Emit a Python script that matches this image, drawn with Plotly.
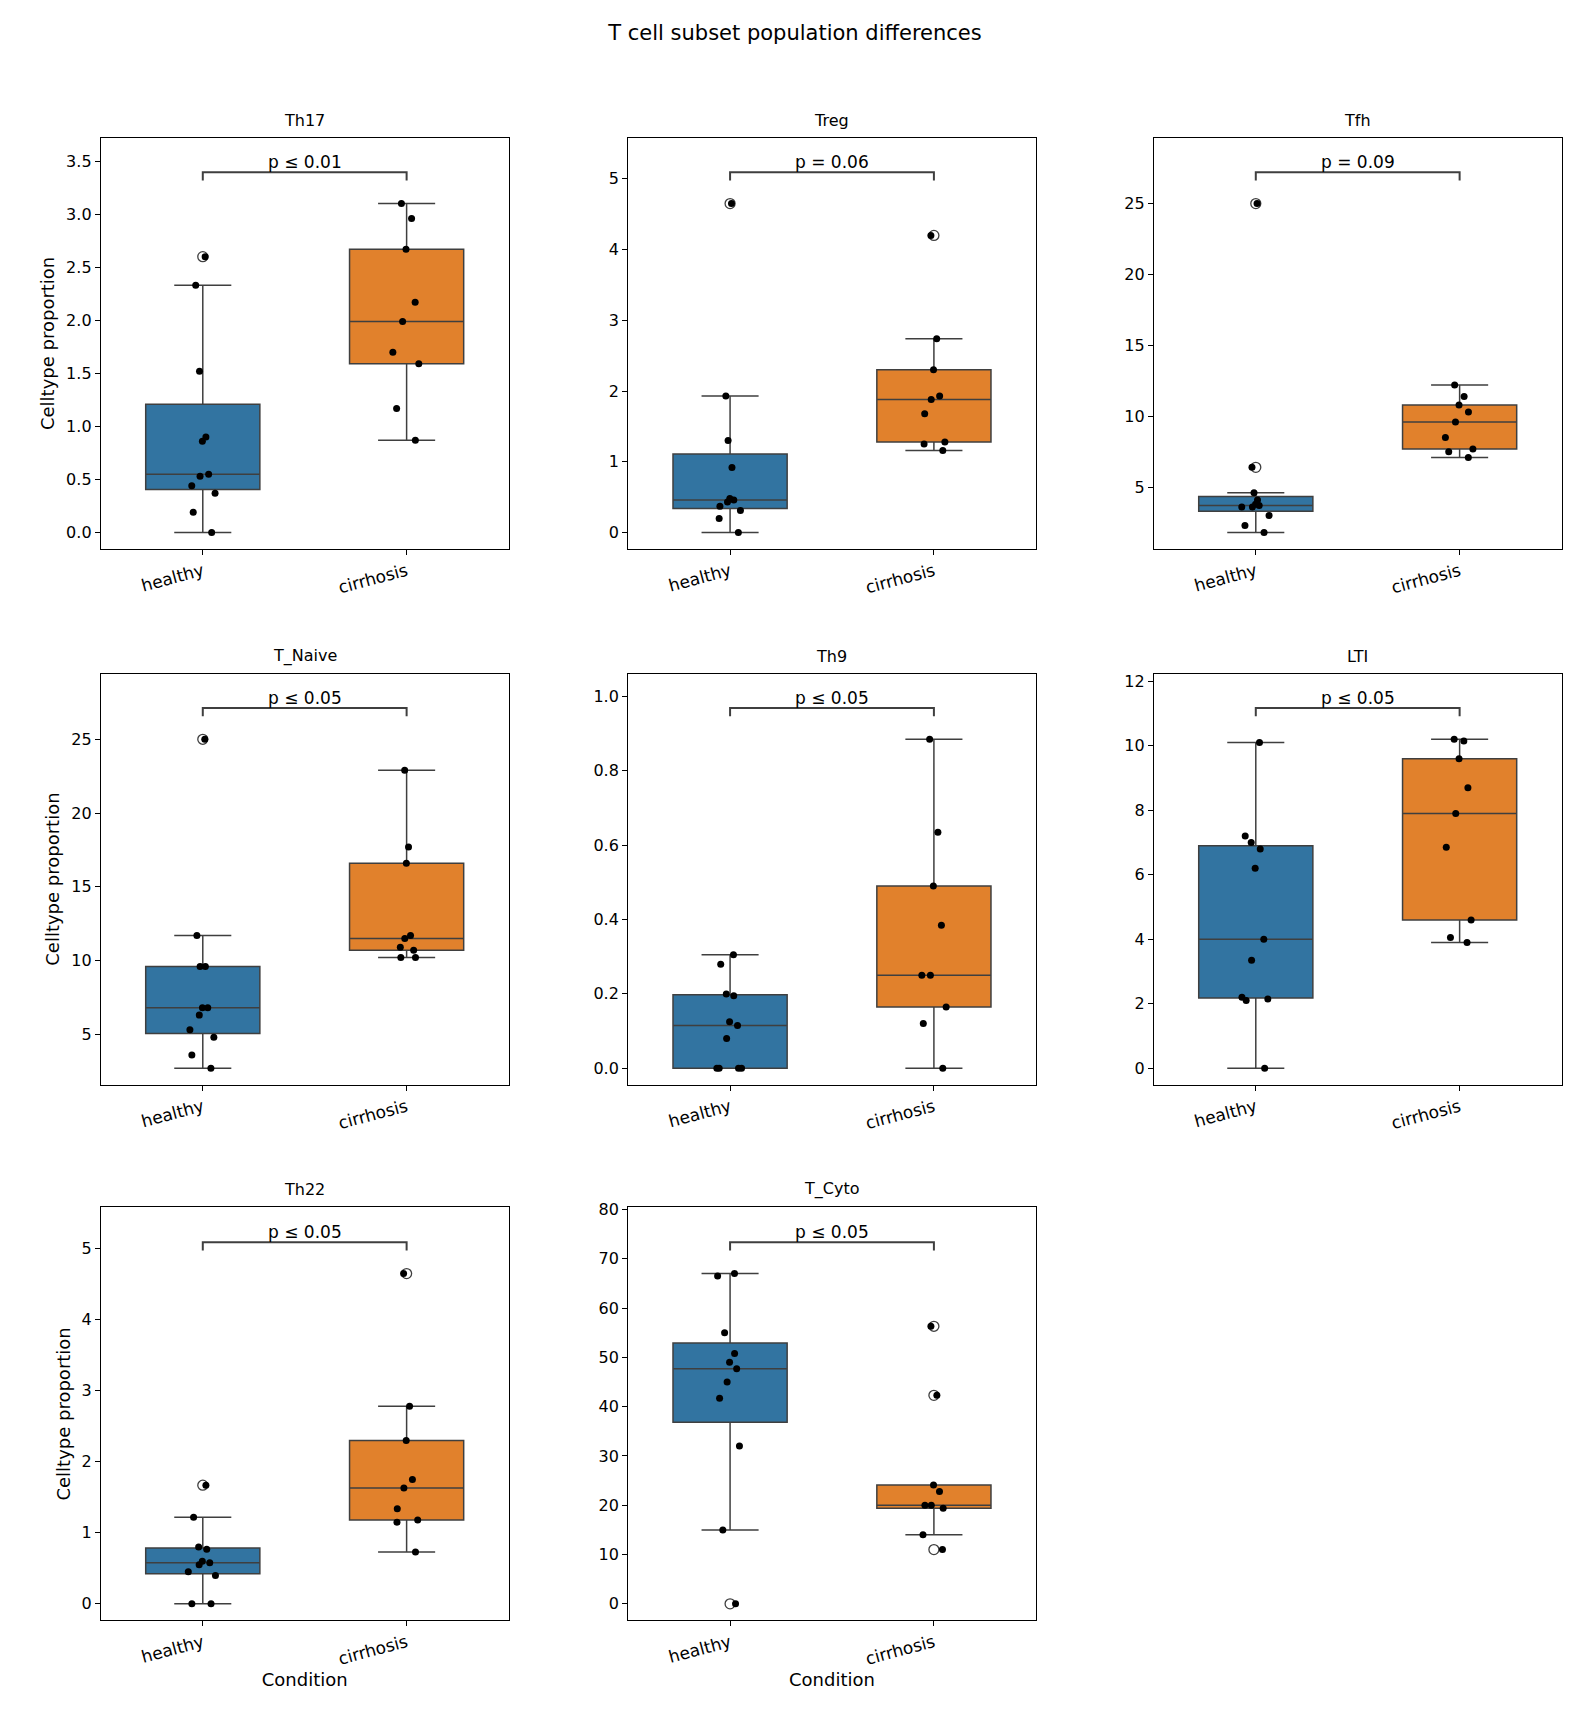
import plotly.graph_objects as go
from plotly.subplots import make_subplots

panels = ["Th17", "Treg", "Tfh", "T_Naive", "Th9", "LTI", "Th22", "T_Cyto"]
pvals = ["p ≤ 0.01", "p = 0.06", "p = 0.09", "p ≤ 0.05", "p ≤ 0.05", "p ≤ 0.05", "p ≤ 0.05", "p ≤ 0.05"]
conditions = ["healthy", "cirrhosis"]

th17_healthy = [2.6, 2.33, 1.52, 0.9, 0.86, 0.55, 0.53, 0.44, 0.37, 0.19, 0.0]
th17_cirrhosis = [3.1, 2.96, 2.67, 2.17, 1.99, 1.7, 1.59, 1.17, 0.87]
treg_healthy = [4.65, 1.93, 1.3, 0.92, 0.48, 0.46, 0.43, 0.37, 0.31, 0.2, 0.0]
treg_cirrhosis = [4.2, 2.74, 2.3, 1.93, 1.88, 1.68, 1.28, 1.25, 1.16]
tfh_healthy = [25.0, 6.4, 4.6, 4.1, 3.8, 3.7, 3.6, 3.6, 3.0, 2.3, 1.8]
tfh_cirrhosis = [12.2, 11.4, 10.8, 10.3, 9.6, 8.5, 7.7, 7.5, 7.1]
naive_healthy = [25.0, 11.7, 9.6, 9.6, 6.8, 6.8, 6.3, 5.3, 4.8, 3.6, 2.7]
naive_cirrhosis = [22.9, 17.7, 16.6, 11.7, 11.5, 10.9, 10.7, 10.2, 10.2]
th9_healthy = [0.305, 0.28, 0.2, 0.195, 0.125, 0.115, 0.08, 0.0, 0.0, 0.0, 0.0]
th9_cirrhosis = [0.885, 0.635, 0.49, 0.385, 0.25, 0.25, 0.165, 0.12, 0.0]
lti_healthy = [10.1, 7.2, 7.0, 6.8, 6.2, 4.0, 3.35, 2.2, 2.15, 2.1, 0.0]
lti_cirrhosis = [10.2, 10.15, 9.6, 8.7, 7.9, 6.85, 4.6, 4.05, 3.9]
th22_healthy = [1.67, 1.22, 0.8, 0.77, 0.6, 0.58, 0.55, 0.45, 0.4, 0.0, 0.0]
th22_cirrhosis = [4.65, 2.78, 2.3, 1.75, 1.63, 1.34, 1.18, 1.15, 0.73]
cyto_healthy = [67.0, 66.5, 55.0, 50.8, 49.0, 47.7, 45.0, 41.7, 32.0, 15.0, 0.0]
cyto_cirrhosis = [56.3, 42.3, 24.1, 22.8, 20.0, 20.0, 19.4, 14.0, 11.0]

healthy = [th17_healthy, treg_healthy, tfh_healthy, naive_healthy, th9_healthy, lti_healthy, th22_healthy, cyto_healthy]
cirrhosis = [th17_cirrhosis, treg_cirrhosis, tfh_cirrhosis, naive_cirrhosis, th9_cirrhosis, lti_cirrhosis, th22_cirrhosis, cyto_cirrhosis]
dticks = [0.5, 1, 5, 5, 0.2, 2, 1, 10]
tickfmts = [".1f", "d", "d", "d", ".1f", "d", "d", "d"]

colors = ["#3274A1", "#E1812C"]
FONT = "DejaVu Sans"

fig = make_subplots(rows=3, cols=3)
xdom = [(0.059, 0.318), (0.394, 0.653), (0.728, 0.987)]
ydom = [(0.687, 0.928), (0.373, 0.614), (0.059, 0.301)]

for i, name in enumerate(panels):
    r, c = i // 3, i % 3
    groups = [healthy[i], cirrhosis[i]]
    for cond, vals, col in zip(conditions, groups, colors):
        fig.add_trace(go.Box(
            x=[cond] * len(vals), y=vals, name=cond, quartilemethod="inclusive",
            fillcolor=col, line=dict(color="#3f3f3f", width=1.5),
            boxpoints="outliers", whiskerwidth=0.5,
            marker=dict(symbol="circle-open", size=10, color="#3f3f3f", line=dict(width=1.3)),
            showlegend=False,
        ), row=r + 1, col=c + 1)
        fig.add_trace(go.Box(
            x=[cond] * len(vals), y=vals, name=cond, quartilemethod="inclusive",
            fillcolor="rgba(0,0,0,0)", line=dict(color="rgba(0,0,0,0)", width=0),
            boxpoints="all", jitter=0.3, pointpos=0,
            marker=dict(color="black", size=7),
            showlegend=False,
        ), row=r + 1, col=c + 1)

    allv = groups[0] + groups[1]
    lo, hi = min(allv), max(allv)
    s = hi - lo
    yb = hi + 0.095 * s
    tip = 0.025 * s
    xref = "x" if i == 0 else f"x{i + 1}"
    yref = "y" if i == 0 else f"y{i + 1}"
    fig.add_shape(type="path", xref=xref, yref=yref,
                  path=f"M 0,{yb - tip} L 0,{yb} L 1,{yb} L 1,{yb - tip}",
                  line=dict(color="#3f3f3f", width=2))
    fig.add_annotation(x=0.5, y=yb, xref=xref, yref=yref, text=pvals[i],
                       showarrow=False, yanchor="bottom", yshift=-2,
                       font=dict(family=FONT, size=17, color="black"))
    fig.add_annotation(x=0.5, y=1.0, xref=f"{xref} domain", yref=f"{yref} domain",
                       text=name, showarrow=False, yanchor="bottom", yshift=6,
                       font=dict(family=FONT, size=16, color="black"))

    ax = dict(domain=xdom[c], type="category", range=[-0.5, 1.5],
              showline=True, mirror=True, linecolor="black", linewidth=1.2,
              ticks="outside", ticklen=5, tickcolor="black", tickangle=-15,
              tickfont=dict(family=FONT, size=17, color="black"), showgrid=False)
    ay = dict(domain=ydom[r], range=[lo - 0.05 * s, hi + 0.2 * s], dtick=dticks[i],
              tickformat=tickfmts[i],
              showline=True, mirror=True, linecolor="black", linewidth=1.2,
              ticks="outside", ticklen=5, tickcolor="black", zeroline=False,
              tickfont=dict(family=FONT, size=16, color="black"), showgrid=False)
    if c == 0:
        ay["title"] = dict(text="Celltype proportion", font=dict(family=FONT, size=18, color="black"), standoff=6)
    if r == 2:
        ax["title"] = dict(text="Condition", font=dict(family=FONT, size=18, color="black"), standoff=4)
    fig.layout["xaxis" if i == 0 else f"xaxis{i + 1}"].update(ax)
    fig.layout["yaxis" if i == 0 else f"yaxis{i + 1}"].update(ay)

fig.layout.xaxis9.visible = False
fig.layout.yaxis9.visible = False

fig.update_layout(
    width=1574, height=1713,
    plot_bgcolor="white", paper_bgcolor="white",
    boxmode="overlay", boxgap=0.2,
    margin=dict(l=0, r=0, t=0, b=0),
    title=dict(text="T cell subset population differences", x=0.5, xanchor="center",
               y=0.99, yanchor="top", font=dict(family=FONT, size=21, color="black")),
    font=dict(family=FONT),
)

fig.write_html("out.html")
